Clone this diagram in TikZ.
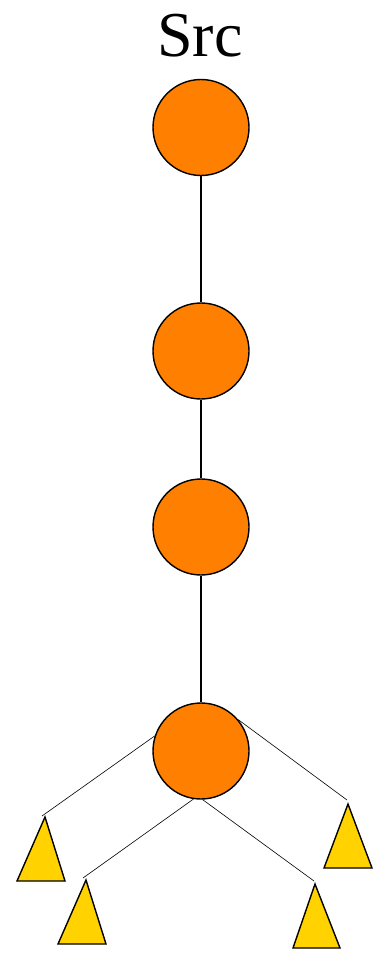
\documentclass[tikz,border=0pt]{standalone}
\usepackage{fontspec}
\setmainfont{Liberation Serif}
\definecolor{nodeorange}{RGB}{255,127,0}
\definecolor{leafgold}{RGB}{255,210,0}
\begin{document}
\begin{tikzpicture}[x=1pt,y=-1pt,
  router/.style={circle,draw=black,line width=1.4pt,fill=nodeorange,minimum size=96pt,inner sep=0pt},
  trunk/.style={draw=black,line width=1.3pt},
  branch/.style={draw=black,line width=0.6pt},
  leaf/.style={draw=black,line width=1.4pt,fill=leafgold,line join=miter}]
\useasboundingbox (0,0) rectangle (382,955);
\node[anchor=base,font=\fontsize{64}{64}\selectfont,inner sep=0pt] (src) at (200,57) {Src};
\node[router] (c1) at (201,127.5) {};
\node[router] (c2) at (201,351) {};
\node[router] (c3) at (201,527) {};
\node[router] (c4) at (201,751) {};
\draw[trunk] (c1.south) -- (c2.north);
\draw[trunk] (c2.south) -- (c3.north);
\draw[trunk] (c3.south) -- (c4.north);
% leaves
\draw[leaf] (45,817) -- (17,881) -- (65,881) -- cycle;
\draw[leaf] (86,880) -- (58,944) -- (106,944) -- cycle;
\draw[leaf] (315,884) -- (293,948) -- (340,948) -- cycle;
\draw[leaf] (348,804) -- (324,868) -- (372,868) -- cycle;
\coordinate (t1) at (42,816);
\coordinate (t2) at (83,878);
\coordinate (t3) at (314,881);
\coordinate (t4) at (347,800);
\draw[branch] (c4.162) -- (t1);
\draw[branch] (c4.261) -- (t2);
\draw[branch] (c4.272) -- (t3);
\draw[branch] (c4.40) -- (t4);
\end{tikzpicture}
\end{document}
